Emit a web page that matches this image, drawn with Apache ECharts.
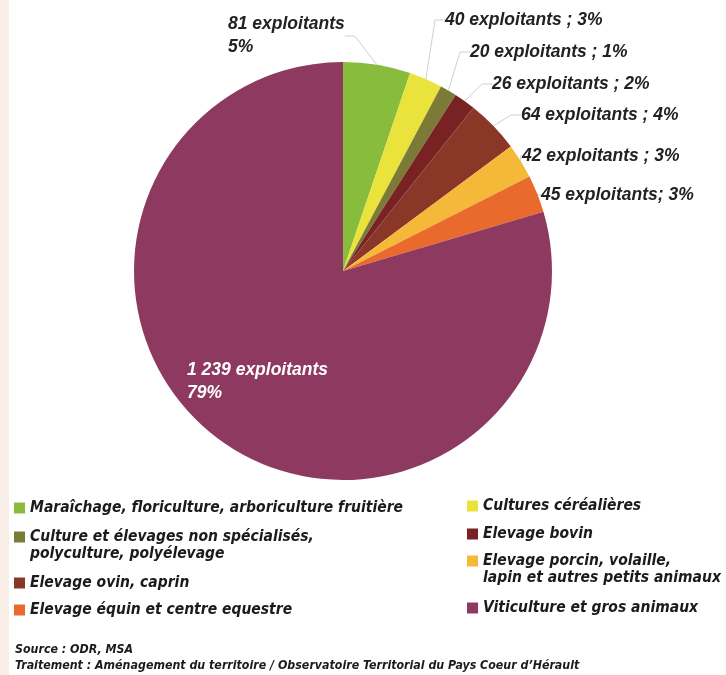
<!DOCTYPE html>
<html>
<head>
<meta charset="utf-8">
<script src="https://cdn.jsdelivr.net/npm/echarts@6/dist/echarts.min.js"></script>
<style>
    html, body { margin: 0; padding: 0; background: #fff; }
    #main { width: 726px; height: 675px; }
</style>
</head>
<body>
<div id="main"></div>
<script>
// catégories (ordre horaire depuis midi)
var categories = [
    'Maraîchage, floriculture, arboriculture fruitière',
    'Cultures céréalières',
    'Culture et élevages non spécialisés,\npolyculture, polyélevage',
    'Elevage bovin',
    'Elevage ovin, caprin',
    'Elevage porcin, volaille,\nlapin et autres petits animaux',
    'Elevage équin et centre equestre',
    'Viticulture et gros animaux'
];
var exploitants = [81, 40, 20, 26, 64, 42, 45, 1239];
var pourcents = [5, 3, 1, 2, 4, 3, 3, 79];
var separateurs = ['\n', ' ; ', ' ; ', ' ; ', ' ; ', ' ; ', '; ', '\n'];
var couleurs = ['#87bc3d', '#e9e33b', '#7b7a36', '#782224', '#8a3727', '#f5b93a', '#ea6a2d', '#8e3a60'];

// position des étiquettes [x gauche, y milieu]
var posEtiquettes = [
    [228, 36], [445, 20], [470, 52], [492, 84],
    [521, 115], [522, 156], [541, 195], [187, 382]
];

// position de la légende [x gauche, y milieu de la 1re ligne], même ordre que categories
var posLegende = [
    [14, 508], [467, 506], [14, 537], [467, 534],
    [14, 583], [467, 561], [14, 610], [467, 608]
];

function formatNombre(n) {
    return String(n).replace(/\B(?=(\d{3})+(?!\d))/g, ' ');
}

var chart = echarts.init(document.getElementById('main'));

var donnees = [];
for (var i = 0; i < categories.length; i++) {
    var item = {
        name: categories[i],
        value: exploitants[i],
        itemStyle: { color: couleurs[i] }
    };
    if (i === categories.length - 1) {
        item.label = { position: 'inside', color: '#fff' };
        item.labelLine = { show: false };
    }
    donnees.push(item);
}

var LH = 17;
var styleLegende = {
    fontFamily: '"DejaVu Sans Condensed", sans-serif',
    fontStyle: 'italic',
    fontWeight: 'bold',
    fontSize: 15.5,
    lineHeight: LH,
    color: '#1b1b1b'
};

// une légende par entrée ; pour les textes sur deux lignes on ajoute une ligne vide
// au-dessus, pour que le carré reste en face de la première ligne
var legendes = [];
for (var j = 0; j < categories.length; j++) {
    var deuxLignes = categories[j].indexOf('\n') >= 0;
    legendes.push({
        left: posLegende[j][0],
        top: deuxLignes ? posLegende[j][1] - LH * 1.5 : posLegende[j][1] - LH / 2,
        padding: 0,
        itemWidth: 11,
        itemHeight: 11,
        icon: 'rect',
        data: [categories[j]],
        textStyle: styleLegende,
        formatter: deuxLignes ? function(name) { return ' \n' + name; } : null,
        selectedMode: false
    });
}

chart.setOption({
    backgroundColor: '#fff',
    animation: false,
    graphic: [{
        type: 'rect',
        left: 0,
        top: 0,
        shape: { width: 9, height: 675 },
        style: { fill: '#f9efe8' },
        silent: true
    }],
    title: {
        left: 15,
        top: 642,
        text: 'Source : ODR, MSA\nTraitement : Aménagement du territoire / Observatoire Territorial du Pays Coeur d’Hérault',
        textStyle: {
            fontFamily: '"DejaVu Sans Condensed", sans-serif',
            fontStyle: 'italic',
            fontWeight: 'bold',
            fontSize: 12.3,
            lineHeight: 16,
            color: '#1b1b1b'
        },
        padding: 0
    },
    legend: legendes,
    series: [{
        type: 'pie',
        center: [343, 271],
        radius: 209,
        startAngle: 90,
        clockwise: true,
        data: donnees,
        label: {
            show: true,
            position: 'outside',
            overflow: 'none',
            edgeDistance: 0,
            bleedMargin: 0,
            fontFamily: '"Liberation Sans", Arial, sans-serif',
            fontStyle: 'italic',
            fontWeight: 'bold',
            fontSize: 17.5,
            lineHeight: 23,
            color: '#222',
            formatter: function(p) {
                return formatNombre(p.value) + ' exploitants' + separateurs[p.dataIndex] + pourcents[p.dataIndex] + '%';
            }
        },
        labelLine: {
            show: true,
            length: 10,
            length2: 10,
            lineStyle: { color: '#cfcfcf', width: 1 }
        },
        labelLayout: function(params) {
            var pos = posEtiquettes[params.dataIndex];
            return {
                x: pos[0],
                y: pos[1],
                align: 'left',
                verticalAlign: 'middle'
            };
        },
        emphasis: { disabled: true }
    }]
});
</script>
</body>
</html>
